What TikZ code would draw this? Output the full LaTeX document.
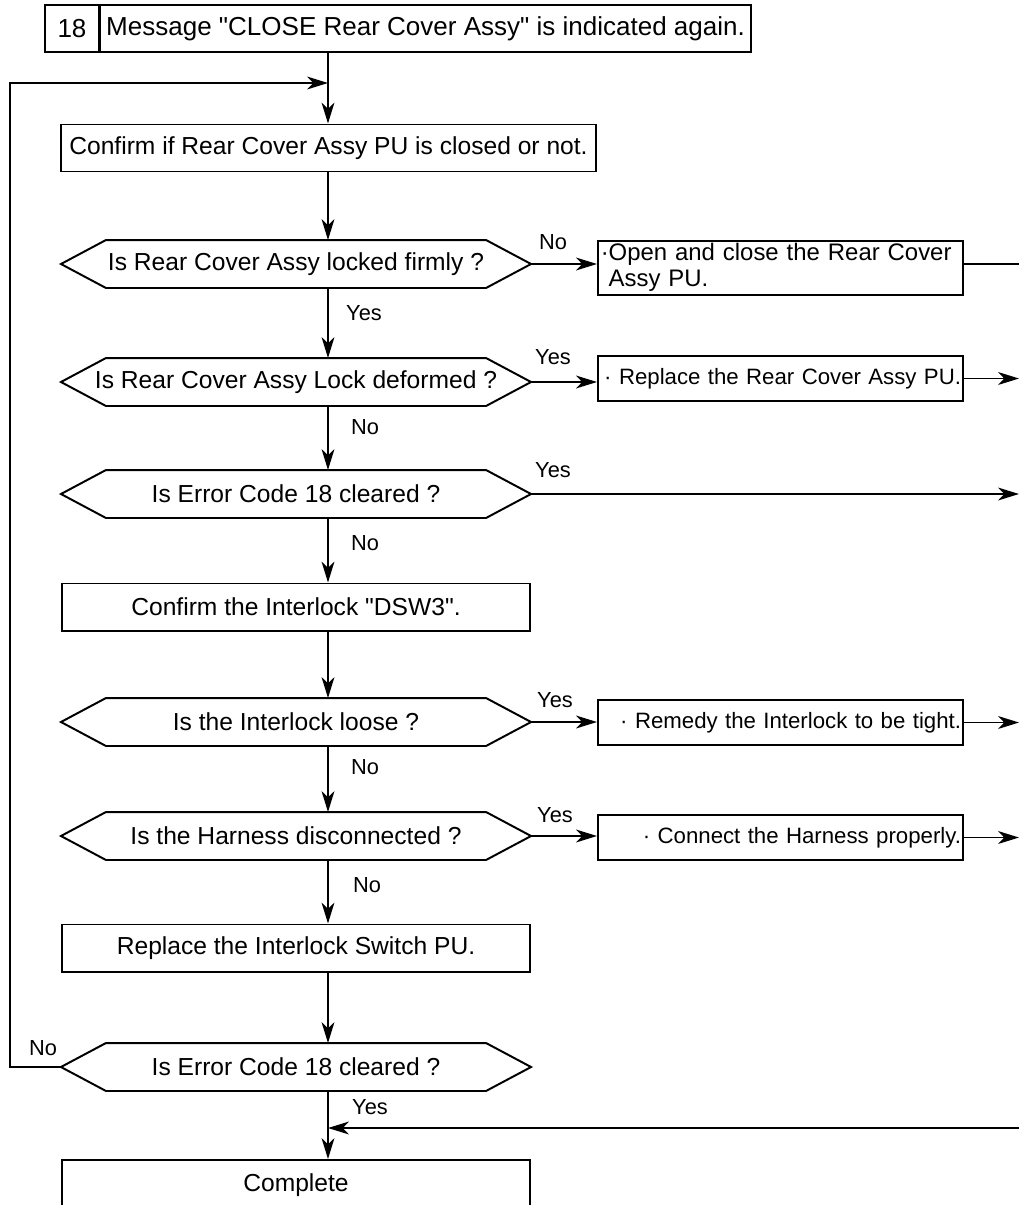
\documentclass[tikz,border=0pt]{standalone}
\usepackage{fontspec}
\setmainfont{Liberation Sans}[Ligatures=TeXOff]
\usetikzlibrary{arrows.meta}

\begin{document}
\begin{tikzpicture}[x=0.025cm, y=-0.025cm, line width=1.4pt, every node/.style={font=\fontsize{17.5}{19.5}\selectfont}]
  \tikzstyle{block} = [rectangle, draw, minimum height=1.175cm, inner sep=0pt]
  \tikzstyle{action} = [rectangle, draw, minimum height=1.125cm, inner xsep=0.05cm, text width=9.025cm, align=right, font=\fontsize{15.8}{18}\selectfont]
  \tikzstyle{decision} = [minimum width=11.7cm, minimum height=1.15cm, inner sep=0pt,
    append after command={\pgfextra{\draw (\tikzlastnode.west) -- ([xshift=1.125cm]\tikzlastnode.north west) -- ([xshift=-1.125cm]\tikzlastnode.north east) -- (\tikzlastnode.east) -- ([xshift=-1.125cm]\tikzlastnode.south east) -- ([xshift=1.125cm]\tikzlastnode.south west) -- cycle;}}]
  \tikzstyle{lbl} = [font=\fontsize{15.5}{17}\selectfont, inner sep=0pt]
  \tikzstyle{line} = [draw, -{Stealth[length=0.52cm, width=0.32cm, inset=0.15cm]}]

  \useasboundingbox (0,0) rectangle (1019,1205);

  % Helper coordinates
  \coordinate (spine) at (328,0);
  \coordinate (exit) at (1019,0);
  \coordinate (join) at (328,83);
  \coordinate (back) at (10,83);
  \coordinate (ret) at (1019,1128);

  % Header
  \node[block, minimum width=1.35cm, font=\fontsize{18.5}{20}\selectfont] (num) at (72,28.5) {18};
  \node[block, anchor=west, minimum width=16.275cm, font=\fontsize{18.5}{20}\selectfont] (msg) at (99,28.5) {Message "CLOSE Rear Cover Assy" is indicated again.};

  % Main column
  \node[block, minimum width=13.375cm] (confirm) at (328.5,148) {Confirm if Rear Cover Assy PU is closed or not.};
  \node[decision] (d1) at (296,264) {Is Rear Cover Assy locked firmly ?};
  \node[decision] (d2) at (296,382) {Is Rear Cover Assy Lock deformed ?};
  \node[decision] (d3) at (296,494) {Is Error Code 18 cleared ?};
  \node[block, minimum width=11.7cm] (interlock) at (296,607) {Confirm the Interlock "DSW3".};
  \node[decision] (d4) at (296,722) {Is the Interlock loose ?};
  \node[decision] (d5) at (296,836) {Is the Harness disconnected ?};
  \node[block, minimum width=11.7cm] (replace) at (296,948) {Replace the Interlock Switch PU.};
  \node[decision] (d6) at (296,1067) {Is Error Code 18 cleared ?};
  \node[block, minimum width=11.7cm, minimum height=1.25cm] (complete) at (296,1185) {Complete};

  % Remedies
  \node[rectangle, draw, minimum width=9.125cm, minimum height=1.35cm, inner xsep=0.07cm, inner ysep=0.02cm, text width=8.985cm, align=left, font=\fontsize{17}{18.5}\selectfont] (act1) at (780.5,268) {\begin{tabular}{@{}l@{}l@{}}·&Open and close the Rear Cover\\&Assy PU.\end{tabular}};
  \node[action] (act2) at (780.5,378.5) {· Replace the Rear Cover Assy PU.};
  \node[action] (act4) at (780.5,722.5) {· Remedy the Interlock to be tight.};
  \node[action] (act5) at (780.5,837.5) {· Connect the Harness properly.};

  % Labels
  \node[lbl] (no1) at (553,242) {No};
  \node[lbl] (yes1) at (364,313) {Yes};
  \node[lbl] (yes2) at (553,357) {Yes};
  \node[lbl] (no2) at (365,427) {No};
  \node[lbl] (yes3) at (553,470) {Yes};
  \node[lbl] (no3) at (365,543) {No};
  \node[lbl] (yes4) at (555,700) {Yes};
  \node[lbl] (no4) at (365,767) {No};
  \node[lbl] (yes5) at (555,815) {Yes};
  \node[lbl] (no5) at (367,885) {No};
  \node[lbl] (no6) at (43,1048) {No};
  \node[lbl] (yes6) at (370,1107) {Yes};

  % Connections
  \draw[line] (msg.south -| spine) -- (confirm.north -| spine);
  \foreach \a/\b in {confirm/d1, d1/d2, d2/d3, d3/interlock, interlock/d4, d4/d5, d5/replace, replace/d6, d6/complete}
    \draw[line] (\a.south -| spine) -- (\b.north -| spine);
  \foreach \d/\r in {d1/act1, d2/act2, d4/act4, d5/act5}
    \draw[line] (\d.east) -- (\d.east -| \r.west);
  \draw (d1.east -| act1.east) -- (d1.east -| exit);
  \foreach \r in {act2, act4, act5}
    \draw[line] (\r.east) -- (\r.east -| exit);
  \draw[line] (d3.east) -- (d3.east -| exit);
  \draw[line] (d6.west) -| (back) -- (join);
  \draw[line] (ret) -- (ret -| spine);
\end{tikzpicture}
\end{document}
